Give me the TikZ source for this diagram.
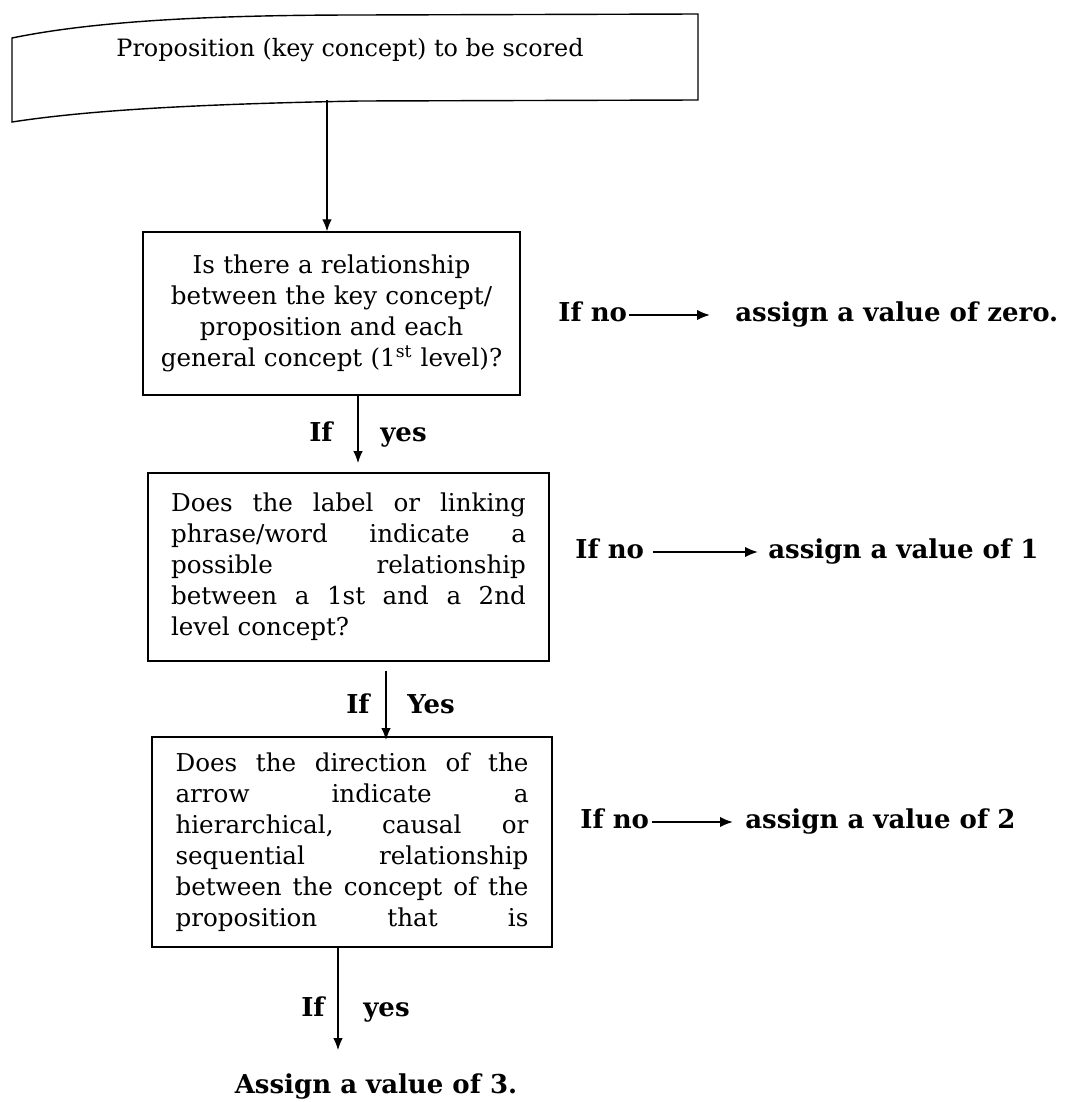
\documentclass[tikz,border=0pt]{standalone}
\usepackage{fontspec}
\setmainfont{DejaVu Serif}
\usetikzlibrary{arrows.meta}
\newcommand{\fillline}[1]{\makebox[\linewidth][s]{\spaceskip=0pt\relax#1}}

\begin{document}
\begin{tikzpicture}[x=0.02cm,y=-0.02cm,
	box/.style={draw,line width=0.8pt,inner sep=0pt},
	boxtext/.style={font=\fontsize{14}{17.6}\selectfont},
	lbl/.style={font=\bfseries\fontsize{14.8}{16}\selectfont,inner sep=0pt,text height=10pt,text depth=3pt},
	flow/.style={line width=0.6pt,-{Latex[length=2.4mm,width=1.9mm]}},
	noflow/.style={line width=1.1pt,-{Latex[length=2.6mm,width=2.1mm]}}]
	\useasboundingbox (0,0) rectangle (1073,1102);
	%proposition
	\draw[line width=0.8pt] (12,38) .. controls (90,22) and (200,15) .. (360,15) -- (698,14) -- (698,100) -- (360,101) .. controls (200,104) and (90,110) .. (12,122) -- cycle;
	\node[font=\fontsize{13.6}{16}\selectfont] (prop) at (350,50) {Proposition (key concept) to be scored};
	\coordinate (propout) at (327,100);
	%questions
	\node[box,boxtext,minimum width=7.54cm,minimum height=3.26cm,text width=7cm,align=center] (qone) at (331.5,313.5) {Is there a relationship\\ between the key concept/\\ proposition and each\\ general concept (1\textsuperscript{st} level)?};
	\node[box,boxtext,minimum width=8.02cm,minimum height=3.76cm,text width=7.1cm,align=flush left] (qtwo) at (348.5,567) {\fillline{Does the label or linking}\\ \fillline{phrase/word indicate a}\\ \fillline{possible relationship}\\ \fillline{between a 1st and a 2nd}\\ level concept?};
	\node[box,boxtext,minimum width=8cm,minimum height=4.2cm,text width=7.06cm,align=flush left] (qthree) at (352,842) {\fillline{Does the direction of the}\\ \fillline{arrow indicate a}\\ \fillline{hierarchical, causal or}\\ \fillline{sequential relationship}\\ \fillline{between the concept of the}\\ \fillline{proposition that is}};
	%if yes
	\coordinate (yesone) at (358,463);
	\coordinate (yestwo) at (386,740);
	\coordinate (yesthree) at (338,1050);
	\node[lbl,anchor=east] (ifone) at (333,435) {If};
	\node[lbl,anchor=west] (yone) at (380,435) {yes};
	\node[lbl,anchor=east] (iftwo) at (370,707) {If};
	\node[lbl,anchor=west] (ytwo) at (407,707) {Yes};
	\node[lbl,anchor=east] (ifthree) at (325,1010) {If};
	\node[lbl,anchor=west] (ythree) at (363,1010) {yes};
	\node[lbl] (three) at (376,1087) {Assign a value of 3.};
	%if no
	\node[lbl,anchor=west] (noone) at (558,315) {If no};
	\node[lbl,anchor=west] (valone) at (735,315) {assign a value of zero.};
	\node[lbl,anchor=west] (notwo) at (575,552) {If no};
	\node[lbl,anchor=west] (valtwo) at (768,552) {assign a value of 1};
	\node[lbl,anchor=west] (nothree) at (580,822) {If no};
	\node[lbl,anchor=west] (valthree) at (745,822) {assign a value of 2};
	%arrows
	\draw[flow] (propout) -- (qone.north -| propout);
	\draw[flow] (qone.south -| yesone) -- (yesone);
	\draw[flow] ([yshift=-0.18cm]qtwo.south -| yestwo) -- (yestwo);
	\draw[flow] (qthree.south -| yesthree) -- (yesthree);
	\draw[noflow,shorten <=0.04cm,shorten >=0.5cm] (noone) -- (valone);
	\draw[noflow,shorten <=0.18cm,shorten >=0.2cm] (notwo) -- (valtwo);
	\draw[noflow,shorten <=0.06cm,shorten >=0.24cm] (nothree) -- (valthree);
\end{tikzpicture}
\end{document}
